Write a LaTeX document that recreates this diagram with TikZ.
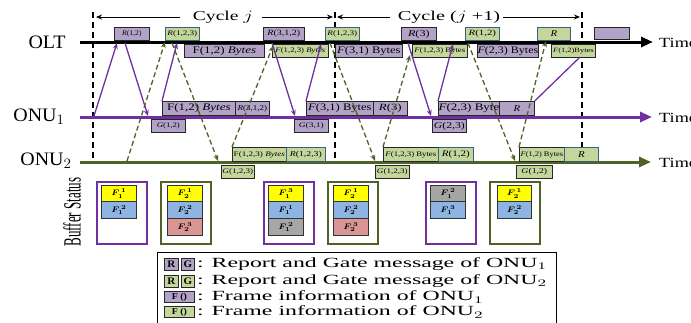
\documentclass[tikz,border=0pt]{standalone}
\usepackage{fontspec}
\setmainfont{Liberation Serif}
\usepackage{graphicx}
\usepackage{amsmath}
\usetikzlibrary{arrows.meta}
\definecolor{pline}{HTML}{7030A0}
\definecolor{gline}{HTML}{4F6228}
\definecolor{pfill}{HTML}{B3A2C7}
\definecolor{gfill}{HTML}{C3D69B}
\definecolor{bord}{HTML}{3A5F7F}
\definecolor{yel}{HTML}{FFFF00}
\definecolor{blu}{HTML}{8DB4E2}
\definecolor{redd}{HTML}{DA9694}
\definecolor{gry}{HTML}{A6A6A6}
\newcommand\lb[3]{{\fontsize{#1}{#1}\selectfont\scalebox{#2}[1]{#3}}}
\newcommand\bx[7]{%
  \pgfmathsetmacro\bxw{#5-#3}\pgfmathsetmacro\bxh{#6-#4}%
  \node[#2,minimum width=\bxw pt,minimum height=\bxh pt,anchor=north west] (#1) at (#3,#4) {#7};}
\newcommand\bF[2]{{\fontsize{8.5}{8.5}\selectfont\scalebox{1.15}[1]{$\boldsymbol{F_{#1}^{\,#2}}$}}}
\begin{document}
\begin{tikzpicture}[x=1pt,y=-1pt,
  pb/.style={draw=black!85,fill=pfill,line width=0.7pt,inner sep=0.2pt},
  gb/.style={draw=black!85,fill=gfill,line width=0.7pt,inner sep=0.2pt},
  gbb/.style={gb,draw=bord},
  pa/.style={pline,line width=1.3pt,-{Stealth[length=6pt,width=5pt]}},
  pn/.style={pline,line width=1.3pt},
  ga/.style={gline,line width=1.3pt,dash pattern=on 5pt off 3pt,-{Stealth[length=6pt,width=5pt]}},
  vd/.style={black,line width=2.2pt,dash pattern=on 6pt off 4pt},
  axl/.style={line width=3pt,-{Triangle[length=12pt,width=10pt]}},
  cyc/.style={black,line width=0.9pt,-{Stealth[length=6pt,width=5pt]}},
  pbuf/.style={draw=pline,line width=1.6pt,fill=white,inner sep=0},
  gbuf/.style={draw=gline,line width=1.6pt,fill=white,inner sep=0},
  bi/.style={draw=black!80,line width=1pt,inner sep=0},
  lab/.style={inner sep=0}]
\useasboundingbox (0,0) rectangle (691,322);

% vertical cycle boundaries
\foreach \n/\x in {v1/93,v2/335,v3/582}{
  \coordinate (\n-t) at (\x,12); \coordinate (\n-b) at (\x,160);
  \draw[vd] (\n-t) -- (\n-b);}

% cycle labels
\node[lab] (cj) at (223,17) {\lb{13.5}{1.45}{Cycle $j$}};
\coordinate (cj-l1) at (180,17); \coordinate (cj-l2) at (96,17);
\coordinate (cj-r1) at (262,17); \coordinate (cj-r2) at (333,17);
\draw[cyc] (cj-l1) -- (cj-l2);
\draw[cyc] (cj-r1) -- (cj-r2);
\node[lab] (cj1) at (449,17) {\lb{13.5}{1.5}{Cycle ($j$ +1)}};
\coordinate (cj1-l1) at (390,17); \coordinate (cj1-l2) at (337,17);
\coordinate (cj1-r1) at (503,17); \coordinate (cj1-r2) at (580,17);
\draw[cyc] (cj1-l1) -- (cj1-l2);
\draw[cyc] (cj1-r1) -- (cj1-r2);

% time lines
\coordinate (olt-s) at (80,42); \coordinate (olt-e) at (653,42);
\coordinate (on1-s) at (80,117); \coordinate (on1-e) at (652,117);
\coordinate (on2-s) at (80,162); \coordinate (on2-e) at (651,162);
\draw[axl,black] (olt-s) -- (olt-e);
\draw[axl,pline] (on1-s) -- (on1-e);
\draw[axl,gline] (on2-s) -- (on2-e);

% row labels
\node[lab] (lolt) at (47,42) {\lb{19}{1.05}{OLT}};
\node[lab] (lon1) at (39,117) {\lb{19}{1.05}{ONU$_1$}};
\node[lab] (lon2) at (46,161) {\lb{19}{1.05}{ONU$_2$}};
\node[lab,anchor=west] (t1) at (659,43) {\lb{14}{1.3}{Time}};
\node[lab,anchor=west] (t2) at (659,118) {\lb{14}{1.3}{Time}};
\node[lab,anchor=west] (t3) at (659,163) {\lb{14}{1.3}{Time}};

% OLT boxes above
\bx{r1}{pb}{114}{27}{149}{40}{\lb{7}{1.1}{\textit{R}(1,2)}}
\bx{r2}{gbb}{165}{27}{199}{40}{\lb{7}{1.3}{\textit{R}(1,2,3)}}
\bx{r3}{pb}{263}{27}{304}{40}{\lb{8}{1.25}{\textit{R}(3,1,2)}}
\bx{r4}{gbb}{325}{27}{359}{40}{\lb{7}{1.3}{\textit{R}(1,2,3)}}
\bx{r5}{pb}{401}{27}{436}{40}{\lb{9}{1.35}{\textit{R}(3)}}
\bx{r6}{gbb}{465}{27}{499}{40}{\lb{8}{1.35}{\textit{R}(1,2)}}
\bx{r7}{gbb}{537}{27}{570}{40}{\lb{9}{1.2}{\textit{R}}}
\bx{r8}{pb}{594}{27}{629}{39}{}
% OLT boxes below
\bx{f1}{pb}{184}{44}{264}{57}{\lb{10}{1.3}{F(1,2) \textit{Bytes}}}
\bx{f2}{gb}{272}{44}{328}{57}{\lb{7}{1.25}{\textit{F}(1,2,3) \textit{Bytes}}}
\bx{f3}{pb}{335}{44}{402}{57}{\lb{10}{1.25}{\textit{F}(3,1) Bytes}}
\bx{f4}{gb}{412}{44}{467}{57}{\lb{7}{1.25}{\textit{F}(1,2,3) Bytes}}
\bx{f5}{pb}{477}{44}{537}{57}{\lb{10}{1.2}{\textit{F}(2,3) Bytes}}
\bx{f6}{gb}{551}{44}{595}{57}{\lb{6.5}{1.3}{\textit{F}(1,2)Bytes}}

% ONU1 boxes
\bx{o1f1}{pb}{162}{101}{235}{115}{\lb{10}{1.3}{F(1,2) \textit{Bytes}}}
\bx{o1r1}{pb}{235}{101}{269}{115}{\lb{7.5}{1.2}{\textit{R}(3,1,2)}}
\bx{o1f2}{pb}{306}{101}{373}{115}{\lb{10}{1.25}{\textit{F}(3,1) Bytes}}
\bx{o1r2}{pb}{373}{101}{407}{115}{\lb{9.5}{1.35}{\textit{R}(3)}}
\bx{o1f3}{pb}{438}{101}{499}{115}{\lb{10}{1.3}{\textit{F}(2,3) Byte}}
\bx{o1r3}{pb}{499}{101}{534}{115}{\lb{9}{1.2}{\textit{R}}}
\bx{g1}{pb}{151}{119}{185}{132}{\lb{7}{1.25}{\textit{G}(1,2)}}
\bx{g2}{pb}{294}{119}{328}{132}{\lb{7}{1.35}{\textit{G}(3,1)}}
\bx{g3}{pb}{432}{119}{466}{132}{\lb{9}{1.3}{\textit{G}(2,3)}}

% ONU2 boxes
\bx{o2f1}{gb}{232}{147}{286}{161}{\lb{7}{1.3}{F(1,2,3) \textit{Bytes}}}
\bx{o2r1}{gbb}{286}{147}{325}{161}{\lb{7.5}{1.3}{\textit{R}(1,2,3)}}
\bx{o2f2}{gb}{383}{147}{438}{161}{\lb{7}{1.25}{\textit{F}(1,2,3) Bytes}}
\bx{o2r2}{gbb}{438}{147}{473}{161}{\lb{8.5}{1.3}{\textit{R}(1,2)}}
\bx{o2f3}{gb}{519}{147}{564}{161}{\lb{7}{1.2}{\textit{F}(1,2) Bytes}}
\bx{o2r3}{gbb}{564}{147}{598}{161}{\lb{9}{1.2}{\textit{R}}}
\bx{g4}{gb}{221}{165}{254}{178}{\lb{7}{1.3}{\textit{G}(1,2,3)}}
\bx{g5}{gb}{375}{165}{409}{178}{\lb{7}{1.3}{\textit{G}(1,2,3)}}
\bx{g6}{gb}{516}{165}{552}{178}{\lb{7.5}{1.3}{\textit{G}(1,2)}}

% ONU1 messages (purple)
\coordinate (p1a) at (94,116); \coordinate (p1b) at (117,43);
\coordinate (p2a) at (125,43); \coordinate (p2b) at (148,116);
\coordinate (p3b) at (177,43);
\coordinate (p4a) at (272,43); \coordinate (p4b) at (295,116);
\coordinate (p5b) at (321,44);
\coordinate (p6a) at (408,43); \coordinate (p6b) at (431,116);
\coordinate (p7b) at (453,44);
\coordinate (p8b) at (580,57);
\draw[pa] (p1a) -- (p1b);
\draw[pa] (p2a) -- (p2b);
\draw[pa] (o1f1.north west) -- (p3b);
\draw[pa] (p4a) -- (p4b);
\draw[pa] (o1f2.north west) -- (p5b);
\draw[pa] (p6a) -- (p6b);
\draw[pa] (o1f3.north west) -- (p7b);
\draw[pn] (o1r3.north east) -- (p8b);

% ONU2 messages (green dashed)
\coordinate (q1a) at (127,161); \coordinate (q1b) at (165,42);
\coordinate (q2a) at (172,43); \coordinate (q2b) at (218,161);
\coordinate (q3b) at (273,46);
\coordinate (q4a) at (330,43); \coordinate (q4b) at (375,161);
\coordinate (q5b) at (410,55);
\coordinate (q6a) at (468,43); \coordinate (q6b) at (515,161);
\coordinate (q7b) at (546,41);
\draw[ga] (q1a) -- (q1b);
\draw[ga] (q2a) -- (q2b);
\draw[ga] (o2f1.north west) -- (q3b);
\draw[ga] (q4a) -- (q4b);
\draw[ga] (o2f2.north west) -- (q5b);
\draw[ga] (q6a) -- (q6b);
\draw[ga] (o2f3.north west) -- (q7b);

% Buffer status
\node[rotate=90,inner sep=0] (bs) at (72,212) {\lb{13}{1}{\scalebox{1}[1.9]{Buffer Status}}};
\bx{b1}{pbuf}{96}{181}{146}{243}{}
\bx{b2}{gbuf}{160}{181}{210}{243}{}
\bx{b3}{pbuf}{263}{181}{313}{243}{}
\bx{b4}{gbuf}{327}{181}{377}{243}{}
\bx{b5}{pbuf}{425}{181}{475}{243}{}
\bx{b6}{gbuf}{489}{181}{539}{243}{}
\bx{b1a}{bi,fill=yel}{101}{185}{136}{201}{\bF{1}{1}}
\bx{b1b}{bi,fill=blu}{101}{201}{136}{218}{\bF{1}{2}}
\bx{b2a}{bi,fill=yel}{167}{185}{202}{201}{\bF{2}{1}}
\bx{b2b}{bi,fill=blu}{167}{201}{202}{218}{\bF{2}{2}}
\bx{b2c}{bi,fill=redd}{167}{218}{202}{235}{\bF{2}{3}}
\bx{b3a}{bi,fill=yel}{268}{185}{303}{201}{\bF{1}{3}}
\bx{b3b}{bi,fill=blu}{268}{201}{303}{218}{\bF{1}{1}}
\bx{b3c}{bi,fill=gry}{268}{218}{303}{235}{\bF{1}{2}}
\bx{b4a}{bi,fill=yel}{333}{185}{368}{201}{\bF{2}{1}}
\bx{b4b}{bi,fill=blu}{333}{201}{368}{218}{\bF{2}{2}}
\bx{b4c}{bi,fill=redd}{333}{218}{368}{235}{\bF{2}{3}}
\bx{b5a}{bi,fill=gry}{430}{185}{465}{201}{\bF{1}{2}}
\bx{b5b}{bi,fill=blu}{430}{201}{465}{218}{\bF{1}{3}}
\bx{b6a}{bi,fill=yel}{497}{185}{531}{201}{\bF{2}{1}}
\bx{b6b}{bi,fill=blu}{497}{201}{531}{218}{\bF{2}{2}}

% Legend
\bx{leg}{draw=black,line width=1pt,inner sep=0}{157}{252}{556}{335}{}
\bx{lr1}{pb}{164}{258}{178}{270}{\lb{10}{1.1}{\textbf{R}}}
\bx{lg1}{pb}{181}{258}{194}{270}{\lb{10}{1.1}{\textbf{G}}}
\bx{lr2}{gb}{164}{275}{178}{287}{\lb{10}{1.1}{\textbf{R}}}
\bx{lg2}{gb}{181}{275}{194}{287}{\lb{10}{1.1}{\textbf{G}}}
\bx{lf1}{pb}{164}{291}{194}{302}{\lb{9}{1.1}{\textbf{F ()}}}
\bx{lf2}{gb}{164}{306}{194}{317}{\lb{9}{1.1}{\textbf{F ()}}}
\node[lab,anchor=west] (lt1) at (197,264) {\lb{14}{1.7}{: Report and Gate message of ONU$_1$}};
\node[lab,anchor=west] (lt2) at (197,281) {\lb{14}{1.7}{: Report and Gate message of ONU$_2$}};
\node[lab,anchor=west] (lt3) at (197,297) {\lb{14}{1.7}{: Frame information of ONU$_1$}};
\node[lab,anchor=west] (lt4) at (197,312) {\lb{14}{1.7}{: Frame information of ONU$_2$}};
\end{tikzpicture}
\end{document}
